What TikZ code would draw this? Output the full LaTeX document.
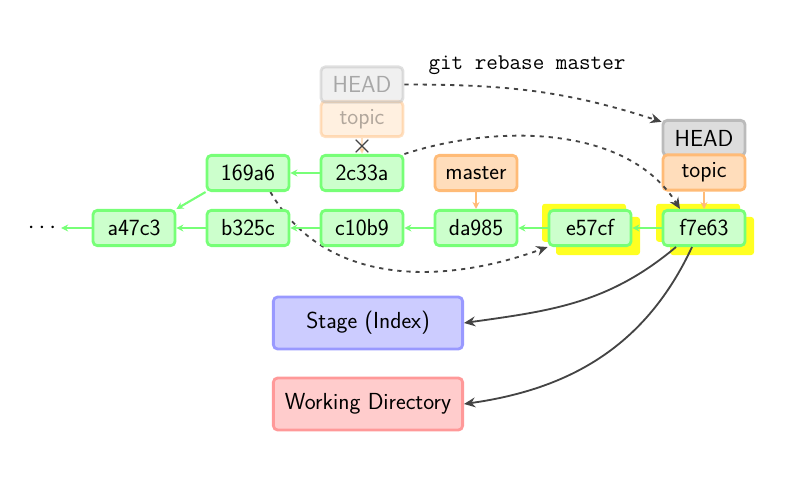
\documentclass[tikz,border=0pt]{standalone}
\usepackage{fontspec}
\usepackage{xcolor}
\usepackage{tikz}
\usetikzlibrary{shapes,arrows.meta,positioning}
\usetikzlibrary{calc,backgrounds}

\definecolor{commitfill}{HTML}{CCFFCC}
\definecolor{commitline}{HTML}{77FF77}
\definecolor{branchfill}{HTML}{FFDDBB}
\definecolor{branchline}{HTML}{FFBB77}
\definecolor{headfill}{HTML}{DDDDDD}
\definecolor{headline}{HTML}{BBBBBB}
\definecolor{stagefill}{HTML}{CCCCFF}
\definecolor{stageline}{HTML}{9999FF}
\definecolor{workfill}{HTML}{FFCCCC}
\definecolor{workline}{HTML}{FF9999}
\definecolor{movecol}{HTML}{444444}
\definecolor{marker}{HTML}{FFFF22}

\tikzset{
  box/.style={line width=2pt, rounded corners=3pt, minimum width=2.05cm,
    minimum height=0.88cm, font=\sffamily\fontsize{16.5}{19}\selectfont},
  commit/.style={box, draw=commitline, fill=commitfill},
  branch/.style={box, draw=branchline, fill=branchfill},
  head/.style={box, draw=headline, fill=headfill},
  area/.style={box, minimum width=4.73cm, minimum height=1.3cm},
  old/.style={opacity=0.45, text opacity=0.3},
  parent/.style={-{Stealth[length=5pt,width=5pt]}, draw=commitline, line width=1.5pt},
  ref/.style={-{Stealth[length=5pt,width=5pt]}, draw=branchline, line width=1.5pt},
  move/.style={-{Stealth[length=8pt,width=7pt]}, draw=movecol, line width=1.3pt,
    dash pattern=on 3pt off 3.5pt},
  checkout/.style={-{Stealth[length=8pt,width=7pt]}, draw=movecol, line width=1.3pt},
  hilite/.style={fill=marker, rounded corners=2pt, minimum width=2.1cm, minimum height=0.95cm}
}

\begin{document}
\begin{tikzpicture}[x=1cm,y=1cm]
        \useasboundingbox (0,0) rectangle (20,12);

        % Commits on master
        \node (dots) at (1.05,6.3) {\fontsize{17}{20}\selectfont$\cdots$};
        \node[commit] (a47c3) at (3.35,6.3) {a47c3};
        \node[commit] (b325c) at (6.2,6.3) {b325c};
        \node[commit] (c10b9) at (9.05,6.3) {c10b9};
        \node[commit] (da985) at (11.9,6.3) {da985};
        \node[commit] (e57cf) at (14.75,6.3) {e57cf};
        \node[commit] (f7e63) at (17.6,6.3) {f7e63};

        % Commits on topic before the rebase
        \node[commit] (169a6) at (6.2,7.675) {169a6};
        \node[commit] (2c33a) at (9.05,7.675) {2c33a};

        % Branches
        \node[branch, old] (oldtopic) at (9.05,9.025) {topic};
        \node[head, old, above=-2.5pt of oldtopic] (oldhead) {HEAD};
        \node[branch] (master) at (11.9,7.675) {master};
        \node[head] (head) at (17.6,8.55) {HEAD};
        \node[branch, below=-2.5pt of head] (topic) {topic};

        % Stage and working directory
        \node[area, draw=stageline, fill=stagefill] (stage) at (9.2,3.925) {Stage (Index)};
        \node[area, draw=workline, fill=workfill] (work) at (9.2,1.9) {Working Directory};

        \node[font=\ttfamily\fontsize{16}{19}\selectfont] (cmd) at (13.175,10.38) {git rebase master};

        % Replayed commits
        \begin{scope}[on background layer]
          \node[hilite] (hlea) at ($(e57cf)+(-0.15,0.13)$) {};
          \node[hilite] (hleb) at ($(e57cf)+(0.2,-0.2)$) {};
          \node[hilite] (hlfa) at ($(f7e63)+(-0.15,0.13)$) {};
          \node[hilite] (hlfb) at ($(f7e63)+(0.2,-0.2)$) {};
          \draw[move] ([xshift=-0.5cm]169a6.south east) to[out=-60,in=200] (e57cf.south west);
        \end{scope}

        % Parent links
        \draw[parent] (a47c3) -- (dots);
        \draw[parent] (b325c) -- (a47c3);
        \draw[parent] (c10b9) -- (b325c);
        \draw[parent] (da985) -- (c10b9);
        \draw[parent] (e57cf) -- (da985);
        \draw[parent] (f7e63) -- (e57cf);
        \draw[parent] (2c33a) -- (169a6);
        \draw[parent] (169a6.south west) -- (a47c3.north east);

        % Branch pointers
        \draw[ref] (master) -- (da985);
        \draw[ref] (topic) -- (f7e63);
        \draw[ref, old] (oldtopic) -- (2c33a);
        \node[cross out, draw=movecol, line width=0.9pt, minimum size=8pt, inner sep=0pt] (cut) at (9.05,8.35) {};

        % What the rebase moves
        \draw[move] (oldhead.east) to[out=0,in=162] ([yshift=-2pt]head.north west);
        \draw[move] (2c33a.north east) to[out=18,in=122,looseness=0.9] ([xshift=-0.6cm]f7e63.north);

        % Checkout into index and working directory
        \draw[checkout] ([xshift=-0.7cm]f7e63.south) to[out=-140,in=8] (stage.east);
        \draw[checkout] ([xshift=-0.3cm]f7e63.south) to[out=-115,in=8] (work.east);
    \end{tikzpicture}
\end{document}
